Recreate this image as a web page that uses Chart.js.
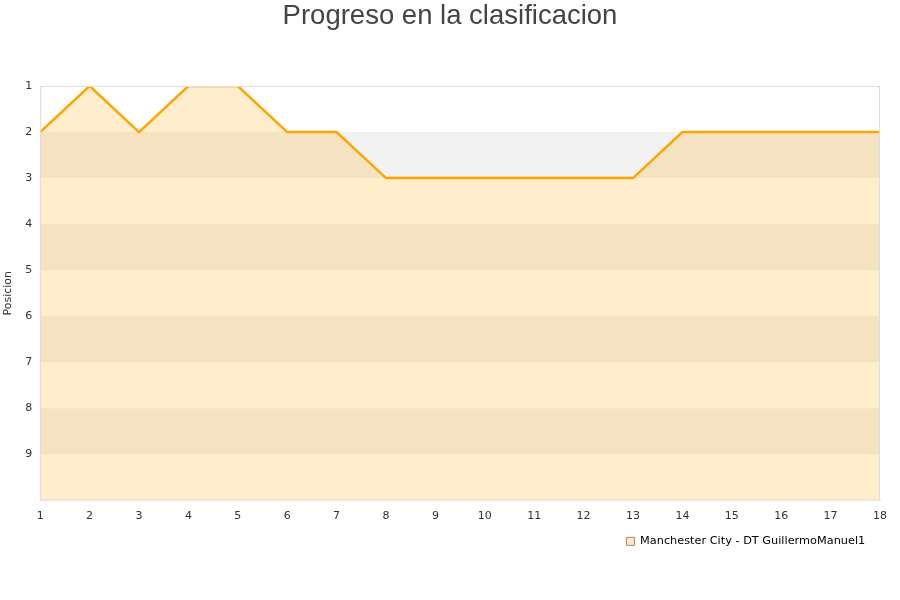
<!DOCTYPE html>
<html>
<head>
<meta charset="utf-8">
<script src="https://cdn.jsdelivr.net/npm/chart.js@4"></script>
<style>
  body { margin: 0; background: #fff; }
  #wrap { width: 900px; height: 600px; }
</style>
</head>
<body>
<div id="wrap"><canvas id="chart"></canvas></div>
<script>
// Jornadas y posiciones
const jornadas = [1, 2, 3, 4, 5, 6, 7, 8, 9, 10, 11, 12, 13, 14, 15, 16, 17, 18];
const posiciones = [2, 1, 2, 1, 1, 2, 2, 3, 3, 3, 3, 3, 3, 2, 2, 2, 2, 2];
const serieNombre = 'Manchester City - DT GuillermoManuel1';
const tituloGrafico = 'Progreso en la clasificacion';

// Bandas alternas de fondo (blanco / gris claro)
const bandsPlugin = {
  id: 'bands',
  beforeDatasetsDraw(chart) {
    const { ctx, chartArea, scales } = chart;
    const y = scales.y;
    ctx.save();
    for (let v = 1; v < 10; v++) {
      const top = y.getPixelForValue(v);
      const bottom = y.getPixelForValue(v + 1);
      ctx.fillStyle = (v % 2 === 0) ? '#f2f2f2' : '#ffffff';
      ctx.fillRect(chartArea.left, top, chartArea.right - chartArea.left, bottom - top);
    }
    ctx.restore();
  }
};

// Titulo centrado sobre todo el lienzo
const titlePlugin = {
  id: 'centeredTitle',
  afterDraw(chart) {
    const { ctx, width } = chart;
    ctx.save();
    ctx.fillStyle = '#444';
    ctx.font = '27.5px "Liberation Sans"';
    ctx.textAlign = 'center';
    ctx.textBaseline = 'middle';
    ctx.fillText(tituloGrafico, width / 2, 16);
    ctx.restore();
  }
};

const ctx = document.getElementById('chart').getContext('2d');
new Chart(ctx, {
  type: 'line',
  data: {
    labels: jornadas,
    datasets: [{
      label: serieNombre,
      data: posiciones,
      borderColor: '#ffa500',
      borderWidth: 2.5,
      backgroundColor: 'rgba(255, 165, 0, 0.2)',
      fill: { value: 10 },
      pointRadius: 0,
      tension: 0,
    }],
  },
  options: {
    responsive: true,
    maintainAspectRatio: false,
    animation: false,
    layout: { padding: { left: 0, right: 20, top: 86, bottom: 43 } },
    scales: {
      x: {
        type: 'linear',
        min: 1,
        max: 18,
        grid: { display: false, drawTicks: false },
        border: { color: '#dddddd' },
        ticks: { stepSize: 1, color: '#333', font: { family: 'DejaVu Sans', size: 11 }, padding: 9 },
      },
      y: {
        reverse: true,
        min: 1,
        max: 10,
        grid: { display: false, drawTicks: false },
        border: { color: '#dddddd' },
        ticks: {
          stepSize: 1,
          color: '#333',
          font: { family: 'DejaVu Sans', size: 11 },
          padding: 8,
          callback: v => (v === 10 ? '' : v),
        },
        title: { display: true, text: 'Posicion', color: '#333', font: { family: 'DejaVu Sans', size: 11 }, padding: 2 },
      },
    },
    plugins: {
      title: { display: false },
      legend: {
        position: 'bottom',
        align: 'end',
        labels: {
          color: '#000',
          boxWidth: 8,
          boxHeight: 8,
          padding: 4,
          font: { family: 'DejaVu Sans', size: 11.3 },
          generateLabels: chart => [{
            text: serieNombre + '   ',
            fillStyle: '#ffe8c0',
            strokeStyle: '#a08c6a',
            lineWidth: 1,
            datasetIndex: 0,
          }],
        },
      },
      tooltip: { enabled: false },
    },
  },
  plugins: [bandsPlugin, titlePlugin, {
    id: 'frame',
    afterDatasetsDraw(chart) {
      const { ctx, chartArea } = chart;
      ctx.save();
      ctx.strokeStyle = '#dddddd';
      ctx.lineWidth = 1;
      ctx.strokeRect(chartArea.left + 0.5, chartArea.top + 0.5, chartArea.right - chartArea.left - 1, chartArea.bottom - chartArea.top - 1);
      ctx.restore();
    }
  }],
});
</script>
</body>
</html>
